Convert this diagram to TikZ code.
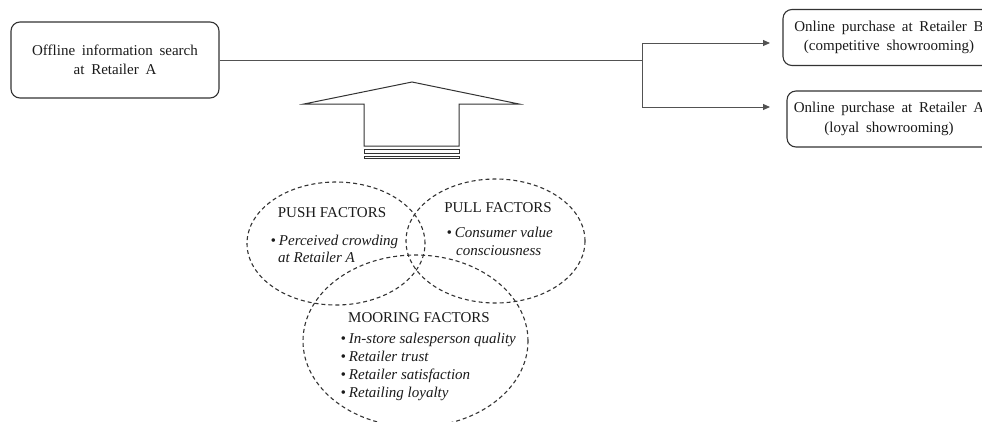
\documentclass[tikz,border=0pt]{standalone}
\usepackage{fontspec}
\setmainfont{Liberation Serif}
\usetikzlibrary{arrows.meta}
\newcommand\myfs{\fontsize{15}{19.5}\selectfont\spaceskip=0.45em plus 0.1em}
\newcommand\myhd{\fontsize{15}{18}\selectfont}
\newcommand\myit{\fontsize{15}{18}\selectfont\itshape}
\definecolor{lc}{HTML}{333333}
\definecolor{tc}{HTML}{1A1A1A}
\begin{document}
\begin{tikzpicture}[x=1pt,y=-1pt,
  box/.style={draw=lc, line width=1.1pt, rounded corners=9pt, inner sep=0pt,
    align=center, font=\myfs, text=tc},
  conn/.style={draw=lc!85, line width=1pt},
  arr/.style={conn, -{Triangle[length=7pt,width=6pt]}},
  venn/.style={draw=lc, line width=1.1pt, dash pattern=on 4pt off 3pt},
  hd/.style={font=\myhd, text=tc, inner sep=0pt},
  items/.style={font=\myit, text=tc, inner sep=0pt, align=left, anchor=base west}]
\useasboundingbox (0,0) rectangle (982,421);
% boxes
\node[box, minimum width=208pt, minimum height=76pt] (srch) at (115,60)
  {Offline information search\\at Retailer A};
\node[box, minimum width=212pt, minimum height=56pt] (retB) at (889,37.5)
  {Online purchase at Retailer B\\(competitive showrooming)};
\node[box, minimum width=204pt, minimum height=56pt] (retA) at (889,119)
  {Online purchase at Retailer A\\(loyal showrooming)};
% connectors
\coordinate (split) at (642,60);
\coordinate (tB) at (770,43);
\coordinate (tA) at (770,107);
\draw[conn] (srch.east) -- (split);
\draw[arr] (split) |- (tB);
\draw[arr] (split) |- (tA);
% block arrow
\draw[lc, line width=1pt, line join=miter]
  (412,82) -- (519,104) -- (459,104) -- (459,146) -- (364,146) -- (364,104) -- (304,104) -- cycle;
\draw[lc, line width=0.9pt] (364,149) rectangle (459,153);
\draw[lc, line width=0.9pt] (364,156.5) rectangle (459,158.8);
% ellipses
\draw[venn] (336,243.5) ellipse [x radius=89pt, y radius=61.5pt];
\draw[venn] (495.5,241) ellipse [x radius=89.5pt, y radius=62pt];
\draw[venn] (415.5,341) ellipse [x radius=112.5pt, y radius=86pt];
% texts
\node[hd] (push) at (332,213) {PUSH FACTORS};
\node[items, font=\fontsize{15}{17}\selectfont\itshape] (pushi) at (270.5,262)
  {\textbullet\hspace{3pt}Perceived crowding\\\hspace{7.5pt}at Retailer A};
\node[hd] (pull) at (498,208) {PULL FACTORS};
\node[items] (pulli) at (446.5,255)
  {\textbullet\hspace{3pt}Consumer value\\\hspace{9.5pt}consciousness};
\node[hd] (moor) at (419,318) {MOORING FACTORS};
\node[items] (moori) at (340.5,397)
  {\textbullet\hspace{3pt}In-store salesperson quality\\
   \textbullet\hspace{3pt}Retailer trust\\
   \textbullet\hspace{3pt}Retailer satisfaction\\
   \textbullet\hspace{3pt}Retailing loyalty};
\end{tikzpicture}
\end{document}
